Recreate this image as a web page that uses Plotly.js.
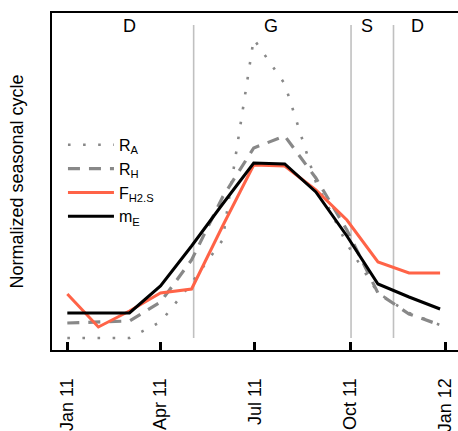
<!DOCTYPE html>
<html>
<head>
<meta charset="utf-8">
<script src="https://cdn.plot.ly/plotly-3.0.1.min.js"></script>
<style>html,body{margin:0;padding:0;background:#fff;}#chart{width:458px;height:431px;}</style>
</head>
<body>
<div id="chart"></div>
<script>
// Time points (30-day steps through 2011)
var dates = ["2011-01-01","2011-01-31","2011-03-02","2011-04-01","2011-05-01","2011-05-31",
             "2011-06-30","2011-07-30","2011-08-29","2011-09-28","2011-10-28","2011-11-27","2011-12-27"];
// Series values (normalized)
var rA  = [0.12,0.12,0.12,0.28,0.67,1.10,3.11,2.66,1.68,1.06,0.57,0.37,0.25];
var rH  = [0.27,0.28,0.29,0.48,0.90,1.53,2.02,2.14,1.72,1.20,0.57,0.36,0.25];
var fH2 = [0.56,0.23,0.39,0.57,0.61,1.24,1.85,1.84,1.60,1.30,0.88,0.77,0.77];
var mE  = [0.37,0.37,0.37,0.64,1.04,1.46,1.87,1.86,1.58,1.14,0.66,0.53,0.41];
// Season boundaries and labels
var boundaries = ["2011-05-03","2011-10-02","2011-11-12"];
var seasonLabels = ["D","G","S","D"];
var seasonLabelDates = ["2011-03-02","2011-07-17","2011-10-17","2011-12-05"];
// Tick labels
var tickDates = ["2011-01-01","2011-04-01","2011-07-01","2011-10-01","2012-01-01"];
var tickLabels = ["Jan 11","Apr 11","Jul 11","Oct 11","Jan 12"];

var FONT = "Liberation Sans, Arial, Helvetica, sans-serif";
var bndTop = 3.25, bndBottom = 0.12, labelY = 3.24;

var traces = [
  {x: dates, y: rA, name: "R<sub>A</sub>", mode: "lines", line: {color: "#888888", width: 2.6, dash: "2.6px,12.5px"}},
  {x: dates, y: rH, name: "R<sub>H</sub>", mode: "lines", line: {color: "#888888", width: 3.2, dash: "12px,9px"}},
  {x: dates, y: fH2, name: "F<sub>H2.S</sub>", mode: "lines", line: {color: "#FF6347", width: 3}},
  {x: dates, y: mE, name: "m<sub>E</sub>", mode: "lines", line: {color: "#000000", width: 3}}
];

var shapes = boundaries.map(function(d){
  return {type: "line", xref: "x", yref: "y", x0: d, x1: d, y0: bndBottom, y1: bndTop,
          line: {color: "#c0c0c0", width: 1.6}, layer: "below"};
});

var annotations = seasonLabels.map(function(t, i){
  return {x: seasonLabelDates[i], y: labelY, xref: "x", yref: "y", text: t, showarrow: false,
          font: {family: FONT, size: 18, color: "#000"}, xanchor: "center", yanchor: "middle"};
});

var layout = {
  width: 458, height: 431,
  margin: {l: 52, r: 0, t: 13, b: 81},
  paper_bgcolor: "#fff", plot_bgcolor: "#fff",
  font: {family: FONT, color: "#000"},
  showlegend: true,
  legend: {x: 0.027, y: 0.659, xanchor: "left", yanchor: "top", bgcolor: "rgba(0,0,0,0)",
           itemwidth: 46,
           font: {family: FONT, size: 16, color: "#000"}, tracegroupgap: 0},
  xaxis: {
    type: "date", range: ["2010-12-17 05:00", "2012-01-13 07:00"],
    showgrid: false, zeroline: false,
    showline: true, linecolor: "#000", linewidth: 2, mirror: true,
    tickmode: "array", tickvals: tickDates, ticktext: tickLabels,
    ticks: "inside", ticklen: 8, tickwidth: 3, tickcolor: "#000",
    tickangle: -90, ticklabelstandoff: 19,
    tickfont: {family: FONT, size: 18, color: "#000"}
  },
  yaxis: {
    range: [0, 3.37], showgrid: false, zeroline: false,
    showline: true, linecolor: "#000", linewidth: 2,
    showticklabels: false, ticks: "",
    title: {text: "Normalized seasonal cycle", font: {family: FONT, size: 18, color: "#000"}, standoff: 22}
  },
  shapes: shapes,
  annotations: annotations
};

Plotly.newPlot("chart", traces, layout, {staticPlot: true, displayModeBar: false});
</script>
</body>
</html>
